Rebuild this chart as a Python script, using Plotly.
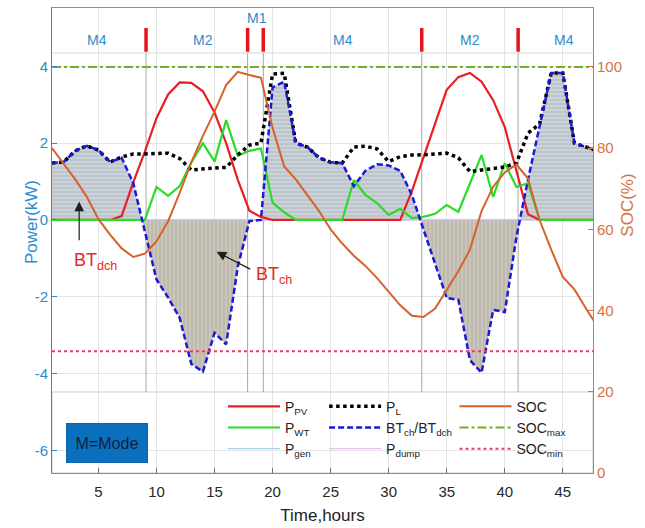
import numpy as np
import plotly.graph_objects as go

# ---------------- data ----------------
hours = list(range(1, 49))

p_pv = [0, 0, 0, 0, 0, 0, 0.10, 0.98, 1.78, 2.65,
        3.27, 3.58, 3.57, 3.35, 2.80, 2.00, 1.05, 0.24, 0.08, 0,
        0, 0, 0, 0, 0, 0, 0, 0, 0, 0,
        0, 0.75, 1.65, 2.55, 3.39, 3.72, 3.83, 3.60, 3.12, 2.42,
        1.30, 0.15, 0, 0, 0, 0, 0, 0]

p_wt = [0, 0, 0, 0, 0, 0, 0, 0, 0, 0.86,
        0.63, 0.88, 1.50, 2.00, 1.52, 2.60, 1.67, 1.80, 1.86, 0.45,
        0.20, 0, 0, 0, 0, 0, 1.04, 0.65, 0.44, 0.13,
        0.29, 0.05, 0.08, 0.16, 0.39, 0.21, 0.95, 1.69, 0.60, 1.48,
        0.86, 0.96, 0, 0, 0, 0, 0, 0]

p_load = [1.48, 1.51, 1.80, 1.93, 1.82, 1.51, 1.64, 1.72, 1.72, 1.74,
          1.74, 1.60, 1.30, 1.33, 1.35, 1.37, 1.69, 1.95, 2.00, 3.80,
          3.82, 2.00, 1.90, 1.62, 1.50, 1.48, 1.90, 1.92, 1.85, 1.52,
          1.65, 1.69, 1.70, 1.72, 1.74, 1.62, 1.26, 1.30, 1.35, 1.38,
          1.48, 2.26, 2.50, 3.83, 3.83, 2.00, 1.90, 1.80]

p_bt = [1.48, 1.51, 1.80, 1.93, 1.82, 1.51, 1.62, 0.96, -0.30, -1.55,
        -2.02, -2.55, -3.75, -3.95, -2.94, -3.24, -1.22, -0.03, 0.00, 3.45,
        3.60, 2.00, 1.90, 1.62, 1.50, 1.48, 0.88, 1.28, 1.45, 1.42,
        1.28, 0.65, -0.25, -1.15, -2.03, -2.08, -3.65, -3.98, -2.34, -2.40,
        -0.45, 1.05, 2.40, 3.83, 3.83, 2.00, 1.90, 1.80]

p_gen = [0] * 48
p_dump = [0] * 48

soc = [80, 76.3, 72.3, 68, 62.5, 58.7, 55.3, 53.2, 54, 57,
       62, 69, 76.5, 83, 89, 95.5, 98.8, 98, 97.3, 85,
       75.5, 72.3, 68.5, 64.5, 60, 56.5, 53.5, 51, 48, 44.6,
       41.3, 38.7, 38.4, 40.5, 45, 49.7, 55, 64.5, 70.5, 74,
       76, 72.5, 62.3, 55, 48.3, 45.2, 40.5, 36]

soc_max = 100
soc_min = 30

mode_switch_hours = [9.1, 17.85, 19.2, 32.85, 41.15]
mode_labels = ["M4", "M2", "M1", "M4", "M2", "M4"]
mode_label_hours = [4.9, 14.0, 18.65, 26.05, 37.0, 45.1]
x_ticks = [5, 10, 15, 20, 25, 30, 35, 40, 45]
y_ticks = [-6, -4, -2, 0, 2, 4]
y_ticktext = ["-6", "-4", "-2", "0", "2", "4"]
y2_ticks = [0, 20, 40, 60, 80, 100]

# ---------------- styling ----------------
FONT = "Liberation Sans, Arial, sans-serif"
BLUE_AX = "rgb(45,140,205)"
ORANGE_AX = "rgb(214,115,65)"
SOC_COL = "rgb(212,98,42)"
Y_RANGE = [-6.59, 5.52]
Y2_RANGE = [0, 114.5]
X_RANGE = [1, 47.6]
STRIP_Y = 4.35
BOX_TOP = -4.48


def with_crossings(x, y):
    xo, yo = [x[0]], [y[0]]
    for i in range(1, len(x)):
        y0, y1 = y[i - 1], y[i]
        if y0 * y1 < 0:
            xc = x[i - 1] + (x[i] - x[i - 1]) * y0 / (y0 - y1)
            xo.append(xc)
            yo.append(0.0)
        xo.append(x[i])
        yo.append(y[i])
    return np.array(xo, float), np.array(yo, float)


xb, yb = with_crossings(hours, p_bt)
y_pos = np.maximum(yb, 0)
y_neg = np.minimum(yb, 0)

fig = go.Figure()

# hatched fills of battery power
fig.add_trace(go.Scatter(
    x=xb, y=y_pos, mode="lines", line=dict(width=0), fill="tozeroy",
    fillcolor="rgb(188,194,200)",
    fillpattern=dict(shape="-", fgcolor="rgb(222,238,248)", bgcolor="rgb(190,196,202)",
                     size=4, solidity=0.35),
    showlegend=False, hoverinfo="skip"))
fig.add_trace(go.Scatter(
    x=xb, y=y_neg, mode="lines", line=dict(width=0), fill="tozeroy",
    fillcolor="rgb(190,186,176)",
    fillpattern=dict(shape="|", fgcolor="rgb(228,220,198)", bgcolor="rgb(190,186,178)",
                     size=4, solidity=0.35),
    showlegend=False, hoverinfo="skip"))

fig.add_trace(go.Scatter(x=hours, y=p_gen, mode="lines", name="P<sub>gen</sub>",
                         line=dict(color="rgb(150,200,232)", width=1),
                         legend="legend", legendrank=3))
fig.add_trace(go.Scatter(x=hours, y=p_dump, mode="lines", name="P<sub>dump</sub>",
                         line=dict(color="rgb(228,180,228)", width=1),
                         legend="legend2", legendrank=3))
fig.add_trace(go.Scatter(x=hours, y=p_pv, mode="lines", name="P<sub>PV</sub>",
                         line=dict(color="rgb(232,30,36)", width=2.2),
                         legend="legend", legendrank=1))
fig.add_trace(go.Scatter(x=hours, y=p_wt, mode="lines", name="P<sub>WT</sub>",
                         line=dict(color="rgb(40,220,40)", width=2.2),
                         legend="legend", legendrank=2))
fig.add_trace(go.Scatter(x=hours, y=p_load, mode="lines", name="P<sub>L</sub>",
                         line=dict(color="black", width=3.5, dash="dot"),
                         legend="legend2", legendrank=1))
fig.add_trace(go.Scatter(x=hours, y=p_bt, mode="lines", name="BT<sub>ch</sub>/BT<sub>dch</sub>",
                         line=dict(color="rgb(25,25,215)", width=2.5, dash="6px,3px"),
                         legend="legend2", legendrank=2))

fig.add_trace(go.Scatter(x=hours, y=soc, mode="lines", name="SOC", yaxis="y2",
                         line=dict(color=SOC_COL, width=2),
                         legend="legend3", legendrank=1))
fig.add_trace(go.Scatter(x=hours, y=[soc_max] * len(hours), mode="lines",
                         name="SOC<sub>max</sub>", yaxis="y2",
                         line=dict(color="rgb(120,170,50)", width=2, dash="dashdot"),
                         legend="legend3", legendrank=2))
fig.add_trace(go.Scatter(x=hours, y=[soc_min] * len(hours), mode="lines",
                         name="SOC<sub>min</sub>", yaxis="y2",
                         line=dict(color="rgb(236,60,110)", width=2, dash="dot"),
                         legend="legend3", legendrank=3))

shapes = []
# legend box (white panel at bottom)
shapes.append(dict(type="rect", xref="paper", yref="y", x0=0, x1=1,
                   y0=Y_RANGE[0], y1=BOX_TOP, fillcolor="white",
                   line=dict(color="rgb(205,205,205)", width=1), layer="between"))
# mode strip lower border
shapes.append(dict(type="line", xref="paper", yref="y", x0=0, x1=1,
                   y0=STRIP_Y, y1=STRIP_Y,
                   line=dict(color="rgb(215,215,215)", width=1), layer="between"))
for h in mode_switch_hours:
    shapes.append(dict(type="line", xref="x", yref="y", x0=h, x1=h,
                       y0=BOX_TOP, y1=STRIP_Y,
                       line=dict(color="rgb(165,165,165)", width=1), layer="between"))
    shapes.append(dict(type="line", xref="x", yref="y", x0=h, x1=h,
                       y0=4.38, y1=5.0,
                       line=dict(color="rgb(230,20,30)", width=3.5), layer="above"))

annotations = []
for lab, h in zip(mode_labels, mode_label_hours):
    annotations.append(dict(x=h, y=5.26 if lab == "M1" else 4.69, xref="x", yref="y",
                            text=lab, showarrow=False,
                            font=dict(family=FONT, size=14, color=BLUE_AX)))

annotations += [
    dict(x=4.71, y=-1.09, xref="x", yref="y", text="BT<sub>dch</sub>", showarrow=False,
         font=dict(family=FONT, size=18, color="rgb(232,40,40)")),
    dict(x=3.34, y=0.48, ax=3.34, ay=-0.57, xref="x", yref="y", axref="x", ayref="y",
         text="", showarrow=True, arrowhead=2, arrowsize=1.6, arrowwidth=1.2,
         arrowcolor="rgb(30,30,30)"),
    dict(x=20.1, y=-1.45, xref="x", yref="y", text="BT<sub>ch</sub>", showarrow=False,
         font=dict(family=FONT, size=18, color="rgb(232,40,40)")),
    dict(x=15.18, y=-0.83, ax=18.2, ay=-1.3, xref="x", yref="y", axref="x", ayref="y",
         text="", showarrow=True, arrowhead=2, arrowsize=1.6, arrowwidth=1.2,
         arrowcolor="rgb(30,30,30)"),
    dict(x=5.75, y=-5.8, xref="x", yref="y", text="M=Mode", showarrow=False,
         width=78, height=36, bgcolor="rgb(10,112,190)",
         bordercolor="rgb(10,100,175)", borderwidth=1,
         font=dict(family=FONT, size=16, color="rgb(20,30,60)")),
    dict(x=-0.058, y=0.54, xref="paper", yref="paper", text="Power(kW)",
         showarrow=False, textangle=-90,
         font=dict(family=FONT, size=17, color=BLUE_AX)),
    dict(x=1.085, y=0.576, xref="paper", yref="paper", text="SOC(%)",
         showarrow=False, textangle=-90,
         font=dict(family=FONT, size=17, color=ORANGE_AX)),
]

leg_common = dict(yanchor="top", xanchor="left", bgcolor="rgba(0,0,0,0)",
                  borderwidth=0, itemwidth=52, tracegroupgap=0,
                  font=dict(family=FONT, size=14, color="rgb(35,35,35)"))

fig.update_layout(
    width=645, height=528,
    margin=dict(l=52, r=52, t=8, b=55),
    paper_bgcolor="white", plot_bgcolor="white",
    font=dict(family=FONT),
    shapes=shapes, annotations=annotations,
    legend=dict(x=0.316, y=0.177, **leg_common),
    legend2=dict(x=0.503, y=0.177, **leg_common),
    legend3=dict(x=0.744, y=0.177, **leg_common),
    xaxis=dict(range=X_RANGE, tickvals=x_ticks, ticks="inside", ticklen=5,
               tickcolor="rgb(110,110,110)", ticklabelstandoff=5, automargin=False,
               showline=True, linecolor="rgb(140,140,140)", linewidth=1, mirror=True,
               showgrid=True, gridcolor="rgb(228,228,228)", zeroline=False,
               tickfont=dict(family=FONT, size=15, color="rgb(40,40,40)"),
               title=dict(text="Time,hours", standoff=10,
                          font=dict(family=FONT, size=17, color="rgb(30,30,30)"))),
    yaxis=dict(range=Y_RANGE, tickvals=y_ticks, ticktext=y_ticktext,
               ticks="inside", ticklen=5, automargin=False,
               tickcolor=BLUE_AX, showline=True, linecolor=BLUE_AX, linewidth=1,
               showgrid=True, gridcolor="rgb(228,228,228)", zeroline=False,
               tickfont=dict(family=FONT, size=15, color=BLUE_AX)),
    yaxis2=dict(range=Y2_RANGE, tickvals=y2_ticks, ticks="inside", ticklen=5,
                tickcolor=ORANGE_AX, overlaying="y", side="right", automargin=False,
                showline=True, linecolor=ORANGE_AX, linewidth=1,
                showgrid=False, zeroline=False,
                tickfont=dict(family=FONT, size=15, color=ORANGE_AX)),
)

fig.write_html("out.html")
